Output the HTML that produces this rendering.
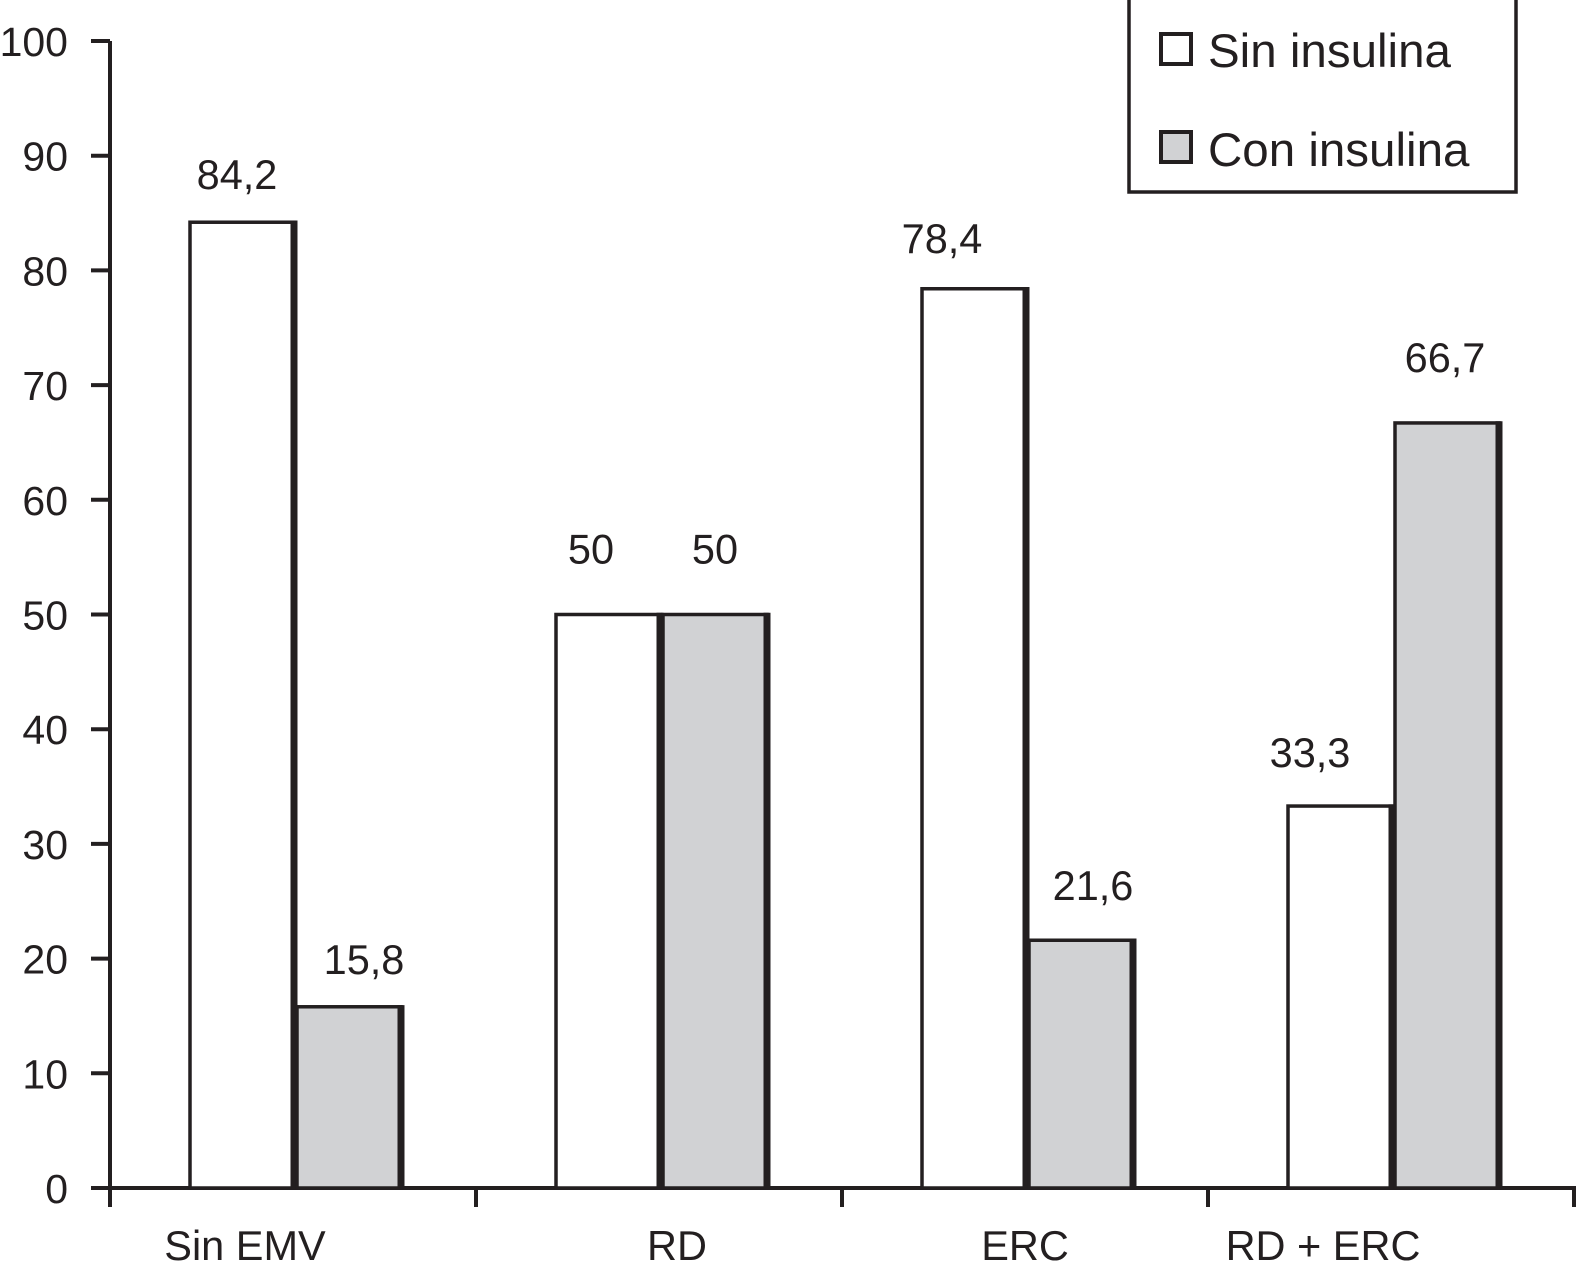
<!DOCTYPE html>
<html><head><meta charset="utf-8"><style>
html,body{margin:0;padding:0;background:#fff}
svg{display:block;font-family:"Liberation Sans",Arial,sans-serif}
</style></head><body>
<svg id="chart" width="1581" height="1270" viewBox="0 0 1581 1270" xmlns="http://www.w3.org/2000/svg">
<g id="axes"></g>
<g id="bars"></g>
<g id="legend">
  <rect x="1129" y="-2" width="387" height="194" fill="#fff" stroke="#231f20" stroke-width="3.5"/>
  <rect x="1161" y="34" width="30" height="30" fill="#fff" stroke="#231f20" stroke-width="4"/>
  <text x="1208" y="67" font-size="47.5" fill="#231f20">Sin insulina</text>
  <rect x="1161" y="132" width="30" height="30" fill="#d1d2d4" stroke="#231f20" stroke-width="4"/>
  <text x="1208" y="166" font-size="47.5" fill="#231f20">Con insulina</text>
</g>
</svg>
<script>
const categories = ["Sin EMV","RD","ERC","RD + ERC"];
const sinInsulina = [84.2, 50, 78.4, 33.3];
const conInsulina = [15.8, 50, 21.6, 66.7];
const sinLabels = ["84,2","50","78,4","33,3"];
const conLabels = ["15,8","50","21,6","66,7"];
const yTicks = [0,10,20,30,40,50,60,70,80,90,100];
const catLabelOffsets = [-48, 18, 0, -68];
const sinLabelDx = [-5, -17, -32, -30];
const sinLabelDy = [0, -18, -3, -6];
const conLabelDx = [15, 0, 12, -2];
const conLabelDy = [0, -18, -7, -18];

const NS = "http://www.w3.org/2000/svg";
const x0 = 110, groupW = 366, yBase = 1188, yTop = 41;
const yMax = 100;
const y = v => yBase - (v / yMax) * (yBase - yTop);
const gx = i => x0 + i * groupW;
const ink = "#231f20";
function mk(tag, attrs, parent) {
  const e = document.createElementNS(NS, tag);
  for (const k in attrs) e.setAttribute(k, attrs[k]);
  parent.appendChild(e);
  return e;
}
const axes = document.getElementById('axes');
const bars = document.getElementById('bars');

let l = mk('line', {x1: x0, y1: yTop, x2: x0, y2: yBase + 15, stroke: ink, 'stroke-width': 4}, axes);


yTicks.forEach(t => {
  const tk = mk('line', {x1: x0 - 19, y1: y(t), x2: x0, y2: y(t), stroke: ink, 'stroke-width': 4}, axes);
  
  
  const tx = mk('text', {x: 68, y: y(t) + 15, 'font-size': 41, 'text-anchor': 'end', fill: ink}, axes);
  tx.textContent = t;
  
  
});
l = mk('line', {x1: x0 - 19, y1: yBase, x2: gx(categories.length) + 2, y2: yBase, stroke: ink, 'stroke-width': 4}, axes);


for (let i = 0; i <= categories.length; i++) {
  const tk = mk('line', {x1: gx(i), y1: yBase, x2: gx(i), y2: yBase + 19, stroke: ink, 'stroke-width': 4}, axes);
  
  
}
categories.forEach((c, i) => {
  const tx = mk('text', {x: gx(i) + groupW / 2 + catLabelOffsets[i], y: 1260, 'font-size': 41.5, 'text-anchor': 'middle', fill: ink}, axes);
  tx.textContent = c;
  
  
});

const barW = 104;
function bar(xl, v, fill, label, name, dx, dy) {
  const top = y(v);
  const g = mk('g', {}, bars);
  
  
  mk('rect', {x: xl, y: top, width: barW, height: yBase - top, fill: fill, stroke: ink, 'stroke-width': 3.5}, g);
  mk('line', {x1: xl + barW, y1: top - 1.7, x2: xl + barW, y2: yBase, stroke: ink, 'stroke-width': 7}, g);
  const tx = mk('text', {x: xl + barW / 2 + dx, y: top - 33 + dy, 'font-size': 41.5, 'text-anchor': 'middle', fill: ink}, bars);
  tx.textContent = label;
  
  
}
categories.forEach((c, i) => {
  const base = gx(i) + 80;
  bar(base, sinInsulina[i], '#fff', sinLabels[i], 'bar-sin-insulina', sinLabelDx[i], sinLabelDy[i]);
  bar(base + barW + 3, conInsulina[i], '#d1d2d4', conLabels[i], 'bar-con-insulina', conLabelDx[i], conLabelDy[i]);
});
</script>
</body></html>
